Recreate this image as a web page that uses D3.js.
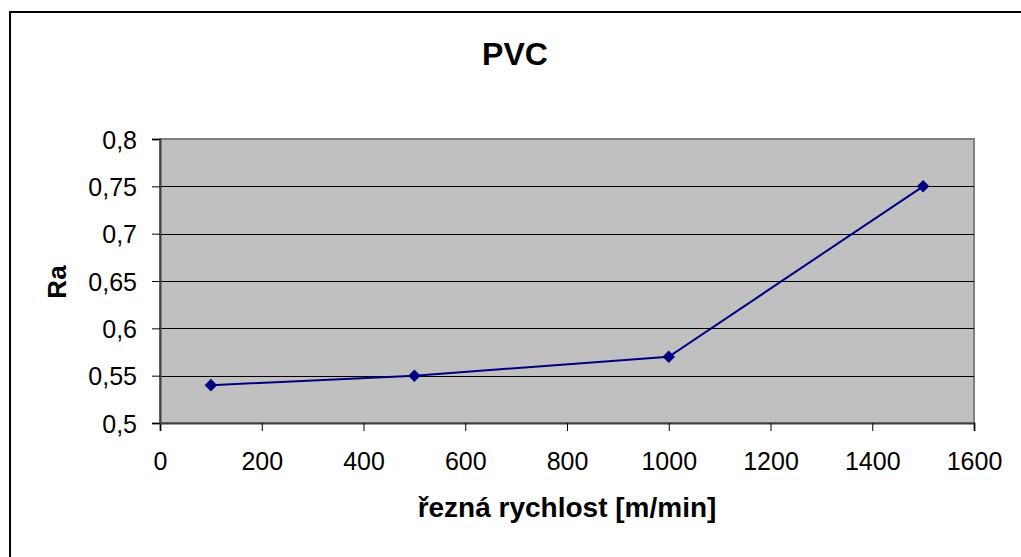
<!DOCTYPE html>
<html lang="cs">
<head>
<meta charset="UTF-8">
<title>PVC</title>
<script src="https://d3js.org/d3.v7.min.js"></script>
<style>
    body {
        margin: 0;
        background: #ffffff;
        font-family: 'Liberation Sans', Arial, sans-serif;
    }
    svg { display: block; }
</style>
</head>
<body>
<svg id="graf" width="1021" height="557"></svg>
<script>
    // hodnoty
    var rychlost = [100, 500, 1000, 1500];
    var ra = [0.54, 0.55, 0.57, 0.75];
    var xTicks = [0, 200, 400, 600, 800, 1000, 1200, 1400, 1600];
    var yTicks = [0.5, 0.55, 0.6, 0.65, 0.7, 0.75, 0.8];

    var data = rychlost.map(function (v, i) { return { x: v, y: ra[i] }; });

    var svg = d3.select("#graf");

    var pLeft = 160, pRight = 974, pTop = 139, pBottom = 423;

    var x = d3.scaleLinear().domain([0, 1600]).range([pLeft, pRight]);
    var y = d3.scaleLinear().domain([0.5, 0.8]).range([pBottom, pTop]);

    var fmt = function (d) { return String(+d.toFixed(2)).replace(".", ","); };

    // rámeček celého grafu
    svg.append("rect")
        .attr("x", 10).attr("y", 12)
        .attr("width", 1030).attr("height", 560)
        .attr("fill", "#fff")
        .attr("stroke", "#000")
        .attr("stroke-width", 2);

    // plocha grafu
    svg.append("rect")
        .attr("x", pLeft).attr("y", pTop)
        .attr("width", pRight - pLeft).attr("height", pBottom - pTop)
        .attr("fill", "#c0c0c0")
        .attr("stroke", "#808080")
        .attr("stroke-width", 2);

    // mřížka
    svg.append("g")
        .selectAll("line")
        .data(yTicks.slice(1, -1))
        .enter().append("line")
        .attr("x1", pLeft).attr("x2", pRight)
        .attr("y1", function (d) { return Math.round(y(d)) + 0.5; })
        .attr("y2", function (d) { return Math.round(y(d)) + 0.5; })
        .attr("stroke", "#000")
        .attr("stroke-width", 1);

    // osy
    var xAxis = svg.append("g")
        .attr("transform", "translate(0," + pBottom + ")")
        .call(d3.axisBottom(x).tickValues(xTicks).tickSize(8).tickPadding(21).tickFormat(d3.format("d")));

    var yAxis = svg.append("g")
        .attr("transform", "translate(" + pLeft + ",0)")
        .call(d3.axisLeft(y).tickValues(yTicks).tickSize(8).tickPadding(15).tickFormat(fmt));

    [xAxis, yAxis].forEach(function (a) {
        a.select(".domain").attr("stroke", "#404040").attr("stroke-width", 2);
        a.selectAll(".tick line").attr("stroke", "#000");
        a.selectAll("text")
            .attr("fill", "#000")
            .style("font-family", "'Liberation Sans', Arial, sans-serif")
            .style("font-size", "25px");
    });
    yAxis.selectAll("text").attr("dy", "0.36em");

    // čára
    svg.append("path")
        .datum(data)
        .attr("fill", "none")
        .attr("stroke", "#000080")
        .attr("stroke-width", 2)
        .attr("d", d3.line().x(function (d) { return x(d.x); }).y(function (d) { return y(d.y); }));

    svg.selectAll(".bod")
        .data(data)
        .enter().append("path")
        .attr("class", "bod")
        .attr("transform", function (d) { return "translate(" + x(d.x) + "," + y(d.y) + ")"; })
        .attr("d", d3.symbol().type(d3.symbolDiamond2).size(100))
        .attr("fill", "#000080");

    // titulky
    svg.append("text")
        .attr("x", 515).attr("y", 65)
        .attr("text-anchor", "middle")
        .style("font-size", "32px")
        .style("font-weight", "bold")
        .text("PVC");

    svg.append("text")
        .attr("x", 567).attr("y", 517)
        .attr("text-anchor", "middle")
        .style("font-size", "28px")
        .style("font-weight", "bold")
        .text("řezná rychlost [m/min]");

    svg.append("text")
        .attr("transform", "translate(66,282) rotate(-90)")
        .attr("text-anchor", "middle")
        .style("font-size", "26px")
        .style("font-weight", "bold")
        .text("Ra");
</script>
</body>
</html>
